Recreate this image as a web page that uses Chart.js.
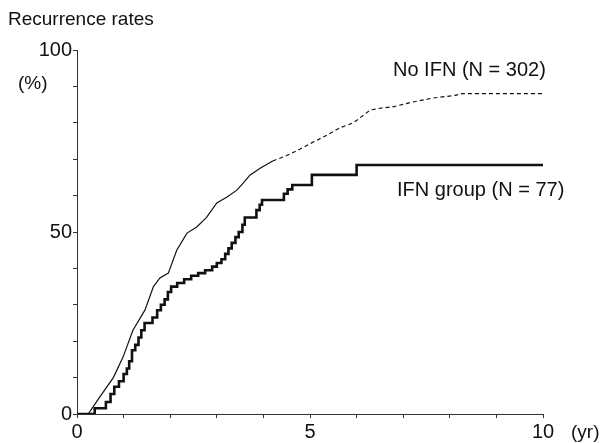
<!DOCTYPE html>
<html>
<head>
<meta charset="utf-8">
<script src="https://cdn.jsdelivr.net/npm/chart.js@4.4.1/dist/chart.umd.min.js"></script>
<style>
  html, body { margin: 0; padding: 0; background: #fff; }
  #wrap { width: 615px; height: 443px; position: relative; }
</style>
</head>
<body>
<div id="wrap"><canvas id="chart" width="615" height="443"></canvas></div>
<script>
// 🔹 DATA
const noIfnYears = [0, 0.24, 0.49, 0.78, 0.99, 1.2, 1.46, 1.64, 1.78, 1.96, 2.14, 2.36, 2.57, 2.78, 3.0, 3.22, 3.43, 3.57, 3.71, 3.93, 4.2, 4.5, 4.79, 5.07, 5.36, 5.64, 5.93, 6.14, 6.29, 6.5, 6.78, 7.2, 7.64, 8.15, 8.2, 10];
const noIfnRates = [0, 0, 4.7, 10, 15.7, 23, 28.6, 35, 37.4, 38.7, 45, 49.7, 51.4, 54, 58, 59.6, 61.5, 63.5, 65.6, 67.5, 69.5, 71, 72.8, 74.7, 76.6, 78.6, 80, 82, 83.5, 84, 84.4, 85.7, 86.8, 87.6, 88, 88];

const ifnYears = [0, 0.38, 0.62, 0.72, 0.8, 0.9, 1.0, 1.07, 1.12, 1.18, 1.25, 1.32, 1.38, 1.45, 1.62, 1.72, 1.8, 1.88, 1.95, 2.02, 2.15, 2.3, 2.45, 2.6, 2.75, 2.9, 3.0, 3.1, 3.18, 3.25, 3.32, 3.4, 3.47, 3.55, 3.6, 3.85, 3.92, 3.97, 4.44, 4.52, 4.62, 5.04, 6.0, 10];
const ifnRates = [0, 1.6, 3.3, 5.5, 7.5, 9, 11, 12.5, 14.5, 17.5, 19, 21, 23, 25, 26.5, 28.5, 30, 31.5, 33.5, 35, 36, 37, 38, 38.7, 39.5, 40.5, 41.5, 42.5, 44, 45.5, 47, 48.6, 50, 52, 54, 56, 57.5, 58.8, 60.5, 61.7, 62.9, 65.7, 68.4, 68.4];

const xLabels = [0, 5, 10];
const yLabels = [0, 50, 100];
const dashFrom = 4.0; // No IFN curve turns dashed here

const FONT = "'Liberation Sans', Arial, sans-serif";

function toPoints(xs, ys) {
  return xs.map((x, i) => ({ x: x, y: ys[i] }));
}

// 🔹 TEXT LABELS
const textPlugin = {
  id: "texts",
  afterDraw(chart) {
    const ctx = chart.ctx;
    ctx.save();
    ctx.fillStyle = "#111";
    ctx.textBaseline = "middle";
    ctx.textAlign = "left";
    ctx.font = "19px " + FONT;
    ctx.fillText("Recurrence rates", 8, 20);
    ctx.font = "19px " + FONT;
    ctx.fillText("(%)", 18, 84);
    ctx.fillText("(yr)", 571, 433);
    ctx.font = "20px " + FONT;
    ctx.fillText("No IFN (N = 302)", 393, 70);
    ctx.fillText("IFN group (N = 77)", 397, 190);
    ctx.restore();
  }
};

new Chart(document.getElementById("chart"), {
  type: "scatter",
  data: {
    datasets: [
      {
        label: "No IFN (N = 302)",
        data: toPoints(noIfnYears, noIfnRates),
        showLine: true,
        borderColor: "#111",
        borderWidth: 1.2,
        pointRadius: 0,
        fill: false,
        segment: {
          borderDash: c => (c.p0.parsed.x >= dashFrom ? [4, 3] : undefined)
        }
      },
      {
        label: "IFN group (N = 77)",
        data: toPoints(ifnYears, ifnRates),
        showLine: true,
        stepped: true,
        borderColor: "#111",
        borderWidth: 2.6,
        pointRadius: 0,
        fill: false
      }
    ]
  },
  options: {
    responsive: false,
    animation: false,
    layout: { padding: { top: 50, right: 72, left: 0, bottom: 0 } },
    plugins: { legend: { display: false }, tooltip: { enabled: false } },
    scales: {
      x: {
        type: "linear",
        min: 0,
        max: 10,
        afterFit(s) { s.height = 29; },
        border: { color: "#333", width: 1 },
        grid: { drawOnChartArea: false, tickLength: 4, color: "#333" },
        ticks: {
          stepSize: 1,
          padding: 2,
          maxRotation: 0,
          color: "#111",
          font: { family: FONT, size: 20 },
          callback: v => (xLabels.includes(v) ? String(v) : "")
        }
      },
      y: {
        type: "linear",
        min: 0,
        max: 100,
        afterFit(s) { s.width = 77; },
        border: { color: "#333", width: 1 },
        grid: { drawOnChartArea: false, tickLength: 4, color: "#333" },
        ticks: {
          stepSize: 10,
          padding: 1,
          color: "#111",
          font: { family: FONT, size: 20 },
          callback: v => (yLabels.includes(v) ? String(v) : "")
        }
      }
    }
  },
  plugins: [textPlugin]
});
</script>
</body>
</html>
